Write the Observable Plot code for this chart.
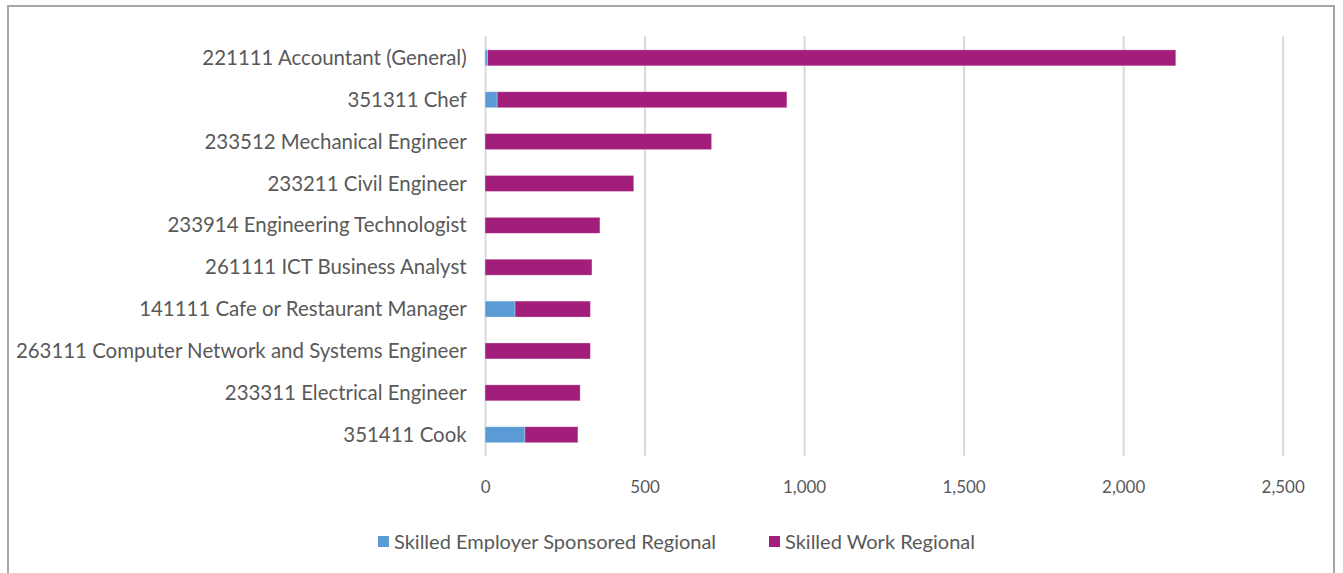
<!DOCTYPE html>
<html>
<head>
<meta charset="utf-8">
<script src="https://cdn.jsdelivr.net/npm/d3@7"></script>
<script src="https://cdn.jsdelivr.net/npm/@observablehq/plot@0.6"></script>
<style>
  html, body { margin: 0; padding: 0; background: #fff; overflow: hidden; }
  #frame { position: absolute; left: 7px; top: 5px; width: 1328px; height: 580px; border: 2px solid #a6a6a6; border-bottom: none; box-sizing: border-box; }
  #chart { position: absolute; left: 0; top: 0; }
  #legend { position: absolute; top: 522px; left: 0; width: 100%; font-family: Lato, sans-serif; font-size: 20px; color: #595959; }
  .item { position: absolute; display: flex; align-items: center; white-space: nowrap; }
  .sw { width: 11px; height: 11px; margin-right: 5px; }
</style>
</head>
<body>
<div id="frame">
  <div id="chart"></div>
  <div id="legend"></div>
</div>
<script>
const categories = [
  "221111 Accountant (General)",
  "351311 Chef",
  "233512 Mechanical Engineer",
  "233211 Civil Engineer",
  "233914 Engineering Technologist",
  "261111 ICT Business Analyst",
  "141111 Cafe or Restaurant Manager",
  "263111 Computer Network and Systems Engineer",
  "233311 Electrical Engineer",
  "351411 Cook"
];
const seriesNames = ["Skilled Employer Sponsored Regional", "Skilled Work Regional"];
const sponsored = [8, 38, 0, 0, 0, 0, 94, 0, 0, 125];
const work = [2157, 908, 710, 466, 360, 335, 236, 330, 298, 166];
const xTicks = [0, 500, 1000, 1500, 2000, 2500];
const colors = ["#5b9bd5", "#a31d7b"];

const data = [];
categories.forEach((c, i) => {
  data.push({category: c, series: seriesNames[0], value: sponsored[i]});
  data.push({category: c, series: seriesNames[1], value: work[i]});
});

const chart = Plot.plot({
  width: 1328,
  height: 505,
  marginLeft: 477.5,
  marginRight: 50.5,
  marginTop: 29,
  marginBottom: 55,
  style: {fontFamily: "Lato, sans-serif", color: "#595959", background: "transparent"},
  x: {domain: [0, 2500], ticks: xTicks, tickFormat: d3.format(",")},
  y: {domain: categories, paddingInner: 0.62, paddingOuter: 0.31},
  color: {domain: seriesNames, range: colors},
  marks: [
    Plot.ruleX(xTicks, {stroke: "#d9d9d9", strokeWidth: 2}),
    Plot.barX(data, {x: "value", y: "category", fill: "series", order: seriesNames, stroke: "#ffffff", strokeOpacity: 0.35, strokeWidth: 0.8}),
    Plot.axisX({ticks: xTicks, tickFormat: d3.format(","), tickSize: 0, tickPadding: 25, fontSize: 17, label: null}),
    Plot.axisY({tickSize: 0, tickPadding: 19, fontSize: 20.5, label: null})
  ]
});
document.getElementById("chart").appendChild(chart);

const legend = document.getElementById("legend");
const lefts = [369, 760];
seriesNames.forEach((s, i) => {
  const it = document.createElement("div");
  it.className = "item";
  it.style.left = lefts[i] + "px";
  const sw = document.createElement("span");
  sw.className = "sw";
  sw.style.background = colors[i];
  const t = document.createElement("span");
  t.textContent = s;
  it.appendChild(sw);
  it.appendChild(t);
  legend.appendChild(it);
});
</script>
</body>
</html>
